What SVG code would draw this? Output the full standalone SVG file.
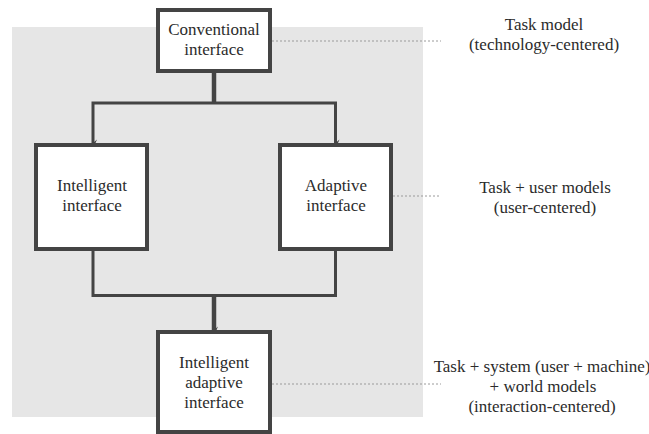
<svg xmlns="http://www.w3.org/2000/svg" width="649" height="434" viewBox="0 0 649 434">
  <defs>
    <style>
      .box { fill: #ffffff; stroke: #444444; stroke-width: 4; }
      .lbl { font-family: 'Liberation Serif', 'DejaVu Serif', serif; font-size: 17px; fill: #2b2b2b; text-anchor: middle; }
      .wire { fill: none; stroke: #444444; stroke-width: 3; }
      .trunk { fill: none; stroke: #444444; stroke-width: 4.5; }
      .guide { fill: none; stroke: #9a9a9a; stroke-width: 1; stroke-dasharray: 2 2; }
    </style>
    <marker id="tip" viewBox="0 0 8 8" refX="4" refY="7" markerWidth="8" markerHeight="8" markerUnits="userSpaceOnUse" orient="auto-start-reverse">
      <path d="M0.5,3 L4,7 L7.5,3 L4,4.5 Z" fill="#444444"/>
    </marker>
  </defs>

  <!-- shaded panel behind the interface hierarchy -->
  <rect x="12" y="27" width="411" height="390" fill="#e6e6e6"/>

  <!-- dotted leader lines to the model descriptions -->
  <g id="leaders">
    <line class="guide" x1="272" y1="41" x2="441" y2="41"/>
    <line class="guide" x1="393" y1="196" x2="441" y2="196"/>
    <line class="guide" x1="272" y1="384" x2="441" y2="384"/>
  </g>

  <!-- connectors -->
  <g id="connectors">
    <line class="trunk" x1="214" y1="73" x2="214" y2="103"/>
    <path class="wire" d="M93,143 V103 H335.5 V143" marker-start="url(#tip)" marker-end="url(#tip)"/>
    <path class="wire" d="M93,251 V295.5 H335.5 V251"/>
    <line class="trunk" x1="214" y1="295.5" x2="214" y2="330" marker-end="url(#tip)"/>
  </g>

  <g id="conventional">
    <rect class="box" x="158" y="10" width="112" height="61"/>
    <text class="lbl" x="214" y="35">Conventional</text>
    <text class="lbl" x="214" y="55">interface</text>
  </g>

  <g id="intelligent">
    <rect class="box" x="36" y="145" width="111" height="104"/>
    <text class="lbl" x="92" y="191">Intelligent</text>
    <text class="lbl" x="92" y="211">interface</text>
  </g>

  <g id="adaptive">
    <rect class="box" x="280" y="145" width="111" height="104"/>
    <text class="lbl" x="336" y="191">Adaptive</text>
    <text class="lbl" x="336" y="211">interface</text>
  </g>

  <g id="intelligent-adaptive">
    <rect class="box" x="158" y="332" width="112" height="100"/>
    <text class="lbl" x="214" y="368">Intelligent</text>
    <text class="lbl" x="214" y="388">adaptive</text>
    <text class="lbl" x="214" y="408">interface</text>
  </g>

  <g id="task-model">
    <text class="lbl" x="544" y="30">Task model</text>
    <text class="lbl" x="544" y="50">(technology-centered)</text>
  </g>

  <g id="task-user-models">
    <text class="lbl" x="545" y="193">Task + user models</text>
    <text class="lbl" x="545" y="213">(user-centered)</text>
  </g>

  <g id="task-system-world-models">
    <text class="lbl" x="542" y="372">Task + system (user + machine)</text>
    <text class="lbl" x="543" y="392">+ world models</text>
    <text class="lbl" x="542" y="412">(interaction-centered)</text>
  </g>
</svg>
